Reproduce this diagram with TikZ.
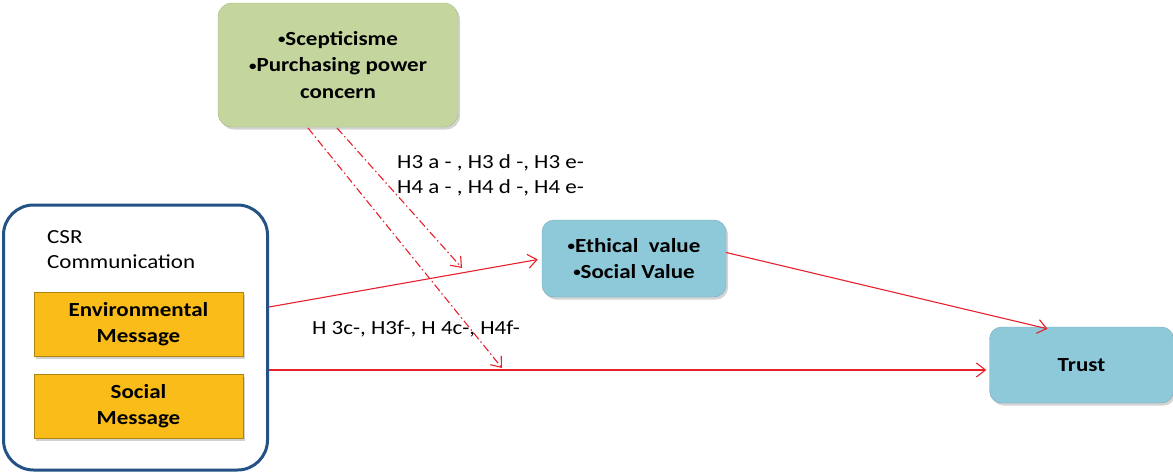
\documentclass[tikz,border=0pt]{standalone}
\usepackage{fontspec}
\setmainfont{Carlito}[FakeStretch=1.15]
\usetikzlibrary{arrows.meta,shadows}
\definecolor{greenbox}{RGB}{196,214,158}
\definecolor{bluebox}{RGB}{142,201,218}
\definecolor{orangebox}{RGB}{249,188,24}
\definecolor{framecol}{RGB}{36,82,132}
\definecolor{arrowred}{RGB}{232,32,44}
\newcommand{\smbul}{{\fontsize{13}{13}\selectfont\raisebox{1.5pt}{•}}}
\tikzset{
  softshadow/.style={drop shadow={opacity=0.35,shadow xshift=2pt,shadow yshift=-2.5pt}},
  gbox/.style={rectangle,rounded corners=14pt,fill=greenbox,draw=greenbox!85!black,line width=0.4pt,softshadow,align=center,font=\fontsize{20}{26.5}\selectfont\bfseries},
  bbox/.style={rectangle,rounded corners=12pt,fill=bluebox,draw=bluebox!85!black,line width=0.4pt,softshadow,align=center,font=\fontsize{20}{26}\selectfont\bfseries},
  obox/.style={rectangle,fill=orangebox,draw=orangebox!70!black,line width=0.5pt,softshadow,align=center,font=\fontsize{20}{26}\selectfont\bfseries,minimum width=209pt,minimum height=64pt},
  redarrow/.style={draw=arrowred,line width=1.1pt,-{Straight Barb[length=9pt,width=14pt]}},
  dasharrow/.style={draw=arrowred,line width=1.1pt,dash pattern=on 8pt off 3pt on 1.5pt off 3pt,-{Straight Barb[length=9pt,width=14pt]}},
  lbl/.style={font=\fontsize{20}{25}\selectfont,inner sep=0pt}
}
\begin{document}
\begin{tikzpicture}[x=1pt,y=-1pt]
\useasboundingbox (0,0) rectangle (1173,474);
% CSR frame
\node[rectangle,rounded corners=30pt,draw=framecol,line width=3pt,fill=white,minimum width=264pt,minimum height=265pt] (csr) at (135.5,337.5) {};
\node[lbl,anchor=north west,align=left] (csrlabel) at (47,230) {CSR\\Communication};
\node[obox] (env) at (138.5,324) {Environmental\\Message};
\node[obox] (soc) at (138.5,406) {Social\\Message};
% moderator
\node[gbox,minimum width=240pt,minimum height=124pt] (mod) at (338,65) {\smbul Scepticisme\\\smbul Purchasing power\\concern};
% mediator and outcome
\node[bbox,minimum width=184pt,minimum height=77pt] (eth) at (634,258.5) {\smbul Ethical\ \ value\\\smbul Social Value};
\node[bbox,minimum width=184pt,minimum height=76pt] (trust) at (1081.5,365) {Trust};
% connectors
\coordinate (s1) at (269,307);
\coordinate (s2) at (269,370);
\draw[redarrow] (s1) -- ([xshift=-4pt,yshift=-1pt]eth.west);
\draw[redarrow] ([yshift=6pt]eth.east) -- ([xshift=-34pt,yshift=-2pt]trust.north);
\draw[redarrow] (s2) -- ([xshift=-3pt]trust.west |- s2);
% moderating dashed arrows
\coordinate (d1s) at (308,128);
\coordinate (d1e) at (502,368);
\coordinate (d2s) at (337,128);
\coordinate (d2e) at (462,268);
\draw[dasharrow] (d1s) -- (d1e);
\draw[dasharrow] (d2s) -- (d2e);
% labels
\node[lbl,anchor=north west,align=left] (h34) at (397,154) {H3 a - , H3 d -, H3 e-\\H4 a - , H4 d -, H4 e-};
\node[lbl,anchor=west] (hc) at (312,329) {H 3c-, H3f-, H 4c-, H4f-};
\end{tikzpicture}
\end{document}
